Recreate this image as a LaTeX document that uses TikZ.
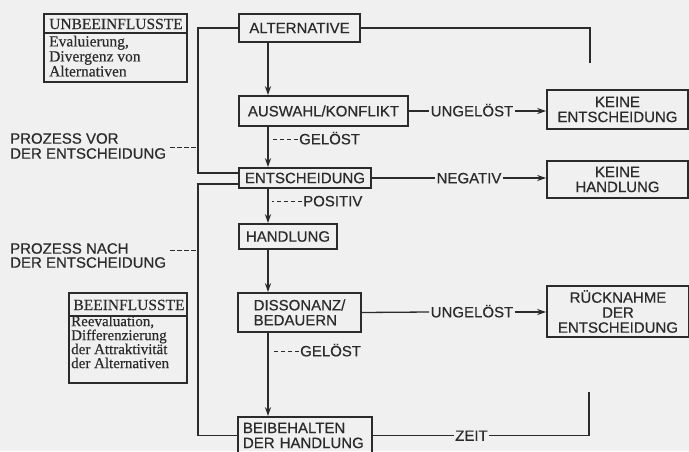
\documentclass[tikz,border=0pt]{standalone}
\usepackage{fontspec}
\setmainfont{Liberation Sans}[FakeBold=0.5]
\newfontfamily\seriffont{Liberation Serif}[FakeBold=0.4]
\usetikzlibrary{arrows.meta}
\definecolor{ink}{HTML}{2B2B2B}
\definecolor{paper}{HTML}{F0F0F0}

\begin{document}
\begin{tikzpicture}[x=1pt,y=-1pt,
  every node/.style={text=ink, font=\fontsize{15}{15}\selectfont},
  box/.style={draw=ink, line width=1.6pt, inner sep=0pt, align=center},
  conn/.style={draw=ink, line width=1.3pt},
  arr/.style={conn, -{Stealth[length=9pt,width=6pt]}},
  lbl/.style={inner sep=1.5pt, text height=10.7pt, text depth=0pt},
  tick/.style={draw=ink, line width=1pt, dash pattern=on 4.5pt off 2.5pt},
  sbox/.style={draw=ink, line width=1.6pt, inner sep=0pt},
  stext/.style={font=\seriffont\fontsize{15.5}{15}\selectfont, inner sep=0pt, align=left},
]
\fill[paper] (0,0) rectangle (689,451);
\useasboundingbox (0,0) rectangle (689,451);

% main chain of boxes
\node[box, minimum width=121pt, minimum height=28pt] (alt) at (299.5,28) {ALTERNATIVE};
\node[box, minimum width=169pt, minimum height=30pt] (ausw) at (323.5,111) {AUSWAHL/KONFLIKT};
\node[box, minimum width=132pt, minimum height=20pt] (ent) at (305,178) {ENTSCHEIDUNG};
\node[box, minimum width=98pt, minimum height=25pt] (hand) at (288,236.5) {HANDLUNG};
\node[box, minimum width=123pt, minimum height=39pt, align=left] (diss) at (299.5,312.5) {DISSONANZ/\\BEDAUERN};
\node[box, minimum width=134pt, minimum height=37pt, align=left, text width=124pt, inner xsep=5pt] (beib) at (305,435.5) {BEIBEHALTEN\\DER HANDLUNG};

% outcome boxes on the right
\node[box, minimum width=141pt, minimum height=39pt] (kent) at (617.5,109.5) {KEINE\\ENTSCHEIDUNG};
\node[box, minimum width=141pt, minimum height=37pt] (khand) at (617.5,179.5) {KEINE\\HANDLUNG};
\node[box, minimum width=142pt, minimum height=51pt] (rueck) at (618,311.5) {RÜCKNAHME\\DER\\ENTSCHEIDUNG};

% vertical arrows down the chain
\coordinate (ax) at (268,0);
\draw[arr] (alt.south -| ax) -- (ausw.north -| ax);
\draw[arr] (ausw.south -| ax) -- (ent.north -| ax);
\draw[arr] (ent.south -| ax) -- (hand.north -| ax);
\draw[arr] (hand.south -| ax) -- (diss.north -| ax);
\draw[arr] (diss.south -| ax) -- (beib.north -| ax);

% labels beside the vertical arrows
\node[lbl, anchor=west, inner sep=0pt] (gel1) at (299,139) {GELÖST};
\draw[tick] ([xshift=-1pt]gel1.west) -- ++(-26,0);
\node[lbl, anchor=west, inner sep=0pt] (pos) at (303,201) {POSITIV};
\draw[tick] ([xshift=-1pt]pos.west) -- ++(-30,0);
\node[lbl, anchor=west, inner sep=0pt] (gel2) at (300,351) {GELÖST};
\draw[tick] ([xshift=-1pt]gel2.west) -- ++(-27,0);

% labelled branches to the right
\node[lbl] (ung1) at (472,111) {UNGELÖST};
\draw[conn] (ausw.east) -- (ung1.west);
\draw[arr] (ung1.east) -- (ung1.east -| kent.west);
\node[lbl] (neg) at (469,178) {NEGATIV};
\draw[conn] (ent.east) -- (neg.west);
\draw[arr] (neg.east) -- (neg.east -| khand.west);
\node[lbl] (ung2) at (472,312) {UNGELÖST};
\draw[conn] (diss.east) -- (ung2.west);
\draw[arr] (ung2.east) -- (ung2.east -| rueck.west);

% open ends on the right
\coordinate (r1) at (590,63);
\draw[conn] (alt.east) -| (r1);
\node[lbl] (zeit) at (471.5,435.5) {ZEIT};
\coordinate (r2) at (589,392);
\draw[conn] (beib.east) -- (zeit.west);
\draw[conn] (zeit.east) -| (r2);

% brackets on the left
\coordinate (b1) at (198,173);
\coordinate (b2) at (198,184);
\draw[conn] (alt.west) -| (b1) -- (b1 -| ent.west);
\draw[conn] (b2 -| ent.west) -- (b2) |- (beib.west);

% phase labels
\node[anchor=north west, inner sep=0pt, align=left] (pvor) at (10,133) {PROZESS VOR\\DER ENTSCHEIDUNG};
\draw[tick] ([shift={(4,1)}]pvor.east) -- ([shift={(0,1)}]pvor.east -| b1);
\node[anchor=north west, inner sep=0pt, align=left, font=\fontsize{15}{14}\selectfont] (pnach) at (10,243) {PROZESS NACH\\DER ENTSCHEIDUNG};
\draw[tick] ([shift={(4,-5)}]pnach.east) -- ([shift={(0,-5)}]pnach.east -| b2);

% boxes with headings
\node[sbox, minimum width=143pt, minimum height=68pt] (unbe) at (115.5,48) {};
\draw[draw=ink, line width=1.2pt] (unbe.west |- 0,33) -- (unbe.east |- 0,33);
\node[stext, anchor=base] (unbehead) at (116,29) {UNBEEINFLUSSTE};
\node[stext, anchor=north west] (unbebody) at (49,35.5) {Evaluierung,\\Divergenz von\\Alternativen};

\node[sbox, minimum width=118pt, minimum height=90pt] (beein) at (128,338) {};
\draw[draw=ink, line width=1.2pt] (beein.west |- 0,316) -- (beein.east |- 0,316);
\node[stext, anchor=base] (beeinhead) at (129,310) {BEEINFLUSSTE};
\node[stext, anchor=north west, font=\seriffont\fontsize{15}{14}\selectfont] (beeinbody) at (71,315.5) {Reevaluation,\\Differenzierung\\der Attraktivität\\der Alternativen};
\end{tikzpicture}
\end{document}
